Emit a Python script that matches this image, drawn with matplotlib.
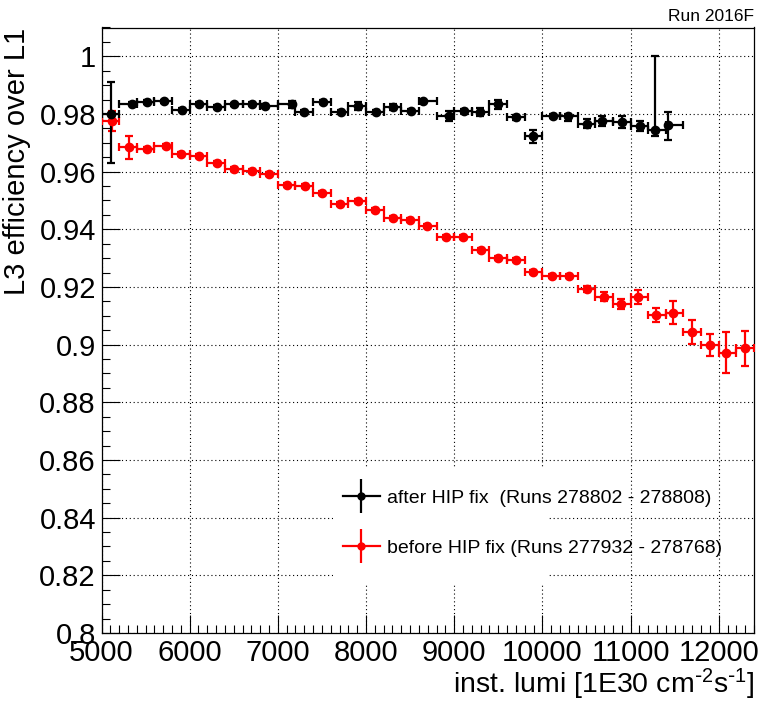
import matplotlib
matplotlib.use("Agg")
import matplotlib.pyplot as plt
from matplotlib.lines import Line2D
from matplotlib.legend_handler import HandlerTuple
from matplotlib.patches import Rectangle
from matplotlib.ticker import MultipleLocator, FormatStrFormatter
import numpy as np

plt.rcParams['font.family'] = ['Liberation Sans', 'DejaVu Sans']
plt.rcParams['mathtext.default'] = 'regular'

# ---------------- data ----------------
bin_edges = [5000, 5200, 5400, 5600, 5800, 6000, 6200, 6400, 6600, 6800, 7000,
             7200, 7400, 7600, 7800, 8000, 8200, 8400, 8600, 8800, 9000,
             9200, 9400, 9600, 9800, 10000, 10200, 10400, 10600, 10800, 11000,
             11200, 11400, 11600, 11800, 12000, 12200, 12400]

after_x = [5108, 5349, 5516, 5712, 5909, 6109, 6306, 6506, 6706, 6853, 7156,
           7296, 7515, 7715, 7912, 8109, 8308, 8506, 8649, 8940, 9107, 9291,
           9499, 9703, 9896, 10116, 10286, 10501, 10671, 10898, 11105, 11279, 11426]
after_y = [0.9801, 0.9836, 0.9842, 0.9844, 0.9815, 0.9836, 0.9824, 0.9833, 0.9835,
           0.9827, 0.9834, 0.9807, 0.9842, 0.9807, 0.9828, 0.9807, 0.9823, 0.9812,
           0.9844, 0.9793, 0.9810, 0.9807, 0.9833, 0.9788, 0.9723, 0.9793, 0.9792,
           0.9767, 0.9776, 0.9772, 0.9758, 0.9744, 0.9761]
after_err_lo = [0.0171, 0.0006, 0.0006, 0.0006, 0.0006, 0.0006, 0.0006, 0.0006, 0.0006,
                0.0006, 0.0012, 0.0006, 0.0006, 0.0006, 0.0014, 0.0006, 0.0010, 0.0006,
                0.0006, 0.0019, 0.0006, 0.0013, 0.0014, 0.0008, 0.0023, 0.0008, 0.0015,
                0.0014, 0.0018, 0.0020, 0.0017, 0.0020, 0.0052]
after_err_hi = [0.0110, 0.0006, 0.0006, 0.0006, 0.0006, 0.0006, 0.0006, 0.0006, 0.0006,
                0.0006, 0.0012, 0.0006, 0.0006, 0.0006, 0.0014, 0.0006, 0.0010, 0.0006,
                0.0006, 0.0019, 0.0006, 0.0013, 0.0014, 0.0008, 0.0023, 0.0008, 0.0008,
                0.0014, 0.0018, 0.0020, 0.0017, 0.0256, 0.0046]

before_x = [5116, 5315, 5519, 5728, 5901, 6111, 6310, 6508, 6712, 6899, 7107, 7307,
            7503, 7704, 7908, 8107, 8302, 8498, 8696, 8902, 9095, 9299, 9499, 9703,
            9889, 10104, 10297, 10501, 10697, 10890, 11083, 11287, 11483, 11698,
            11899, 12088, 12299]
before_y = [0.9776, 0.9685, 0.9679, 0.9689, 0.9662, 0.9653, 0.9630, 0.9609, 0.9601,
            0.9591, 0.9555, 0.9550, 0.9526, 0.9489, 0.9498, 0.9466, 0.9440, 0.9433,
            0.9411, 0.9375, 0.9375, 0.9328, 0.9301, 0.9292, 0.9252, 0.9237, 0.9237,
            0.9193, 0.9167, 0.9140, 0.9166, 0.9103, 0.9110, 0.9044, 0.8998, 0.8972,
            0.8988]
before_err = [0.0035, 0.0040, 0.0007, 0.0007, 0.0007, 0.0007, 0.0007, 0.0007, 0.0007,
              0.0007, 0.0007, 0.0007, 0.0007, 0.0007, 0.0007, 0.0007, 0.0007, 0.0007,
              0.0007, 0.0007, 0.0007, 0.0007, 0.0007, 0.0007, 0.0007, 0.0007, 0.0007,
              0.0010, 0.0017, 0.0017, 0.0024, 0.0025, 0.0040, 0.0040, 0.0039, 0.0072,
              0.0061]

label_after = "after HIP fix  (Runs 278802 - 278808)"
label_before = "before HIP fix (Runs 277932 - 278768)"
xlabel = r"inst. lumi [1E30 cm$^{\text{-}2}$s$^{\text{-}1}$]"
ylabel = "L3 efficiency over L1"
run_label = "Run 2016F"

# ---------------- figure ----------------
W, H = 759, 702
fig = plt.figure(figsize=(W / 100, H / 100), dpi=100)
ax = fig.add_axes([101.5 / W, (H - 633) / H, 652.5 / W, 605.5 / H])

edges = np.array(bin_edges, dtype=float)


def xerrs(xs):
    xs = np.asarray(xs, dtype=float)
    idx = np.searchsorted(edges, xs, side='right') - 1
    return np.vstack([xs - edges[idx], edges[idx + 1] - xs])


style = dict(fmt='o', markersize=6, elinewidth=1.6, capsize=3, capthick=1.6, zorder=3)
ax.errorbar(before_x, before_y, yerr=before_err, xerr=xerrs(before_x),
            color='#ff0000', **style)
ax.errorbar(after_x, after_y, yerr=[after_err_lo, after_err_hi], xerr=xerrs(after_x),
            color='black', **style)

ax.set_xlim(5000, 12400)
ax.set_ylim(0.8, 1.01)

ax.xaxis.set_major_locator(MultipleLocator(1000))
ax.xaxis.set_minor_locator(MultipleLocator(100))
ax.yaxis.set_major_locator(MultipleLocator(0.02))
ax.yaxis.set_minor_locator(MultipleLocator(0.005))
ax.yaxis.set_major_formatter(FormatStrFormatter('%g'))

ax.tick_params(which='both', direction='in', top=False, right=False, labelsize=21, width=0.8)
ax.tick_params(which='major', length=13, pad=4)
ax.tick_params(which='minor', length=6)

ax.set_axisbelow(True)
ax.grid(True, which='major', color='black', linestyle=(0, (1, 2.5)), linewidth=0.8)
for s in ax.spines.values():
    s.set_linewidth(0.9)

ax.set_xlabel(xlabel, fontsize=20.5, loc='right', labelpad=0)
ax.set_ylabel(ylabel, fontsize=21, loc='top', labelpad=6)

# white legend box (hides the grid behind the legend)
ax.add_patch(Rectangle((0.355, 0.079), 0.328, 0.1935, transform=ax.transAxes,
                       facecolor='white', edgecolor='none', zorder=1))

h_after = (Line2D([], [], color='black', lw=1.6, marker='o', ms=5),
           Line2D([], [], color='black', ls='none', marker='|', ms=24, mew=1.6))
h_before = (Line2D([], [], color='#ff0000', lw=1.6, marker='o', ms=5),
            Line2D([], [], color='#ff0000', ls='none', marker='|', ms=24, mew=1.6))
ax.legend([h_after, h_before], [label_after, label_before],
          handler_map={tuple: HandlerTuple(ndivide=1, pad=0)},
          loc='upper left', bbox_to_anchor=(0.370, 0.2378), frameon=False,
          fontsize=14, handlelength=1.9, handletextpad=0.36, labelspacing=1.7,
          borderpad=0, borderaxespad=0, numpoints=1)

fig.text(754 / W, 1 - 21 / H, run_label, ha='right', va='baseline', fontsize=12.5)

fig.savefig('out.png', dpi=100)
